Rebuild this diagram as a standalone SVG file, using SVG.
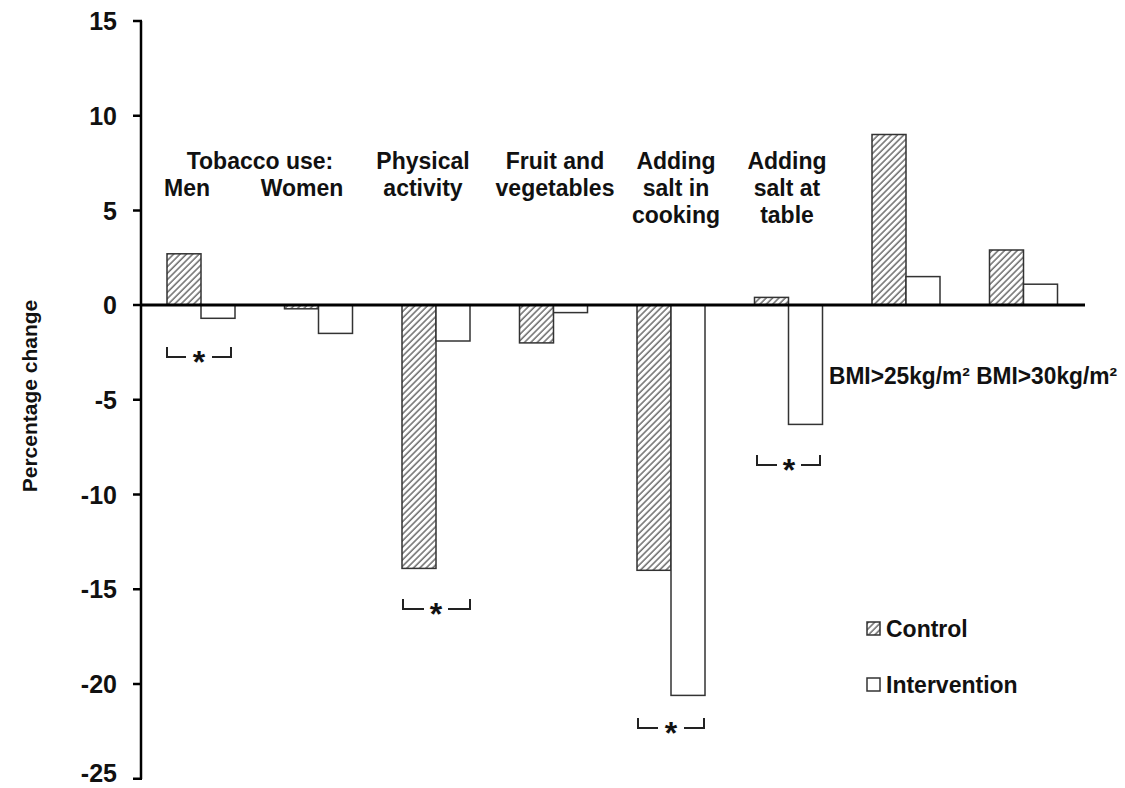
<svg xmlns="http://www.w3.org/2000/svg" width="1125" height="788" viewBox="0 0 1125 788">
<style>
text{font-family:"Liberation Sans",Arial,sans-serif;font-weight:bold;fill:#111;}
.lab{font-size:23px;}
.ylab{font-size:21px;}
.tick{font-size:25px;text-anchor:end;}
.c{fill:url(#hatch);stroke:#333;stroke-width:1.5;}
.i{fill:#fff;stroke:#333;stroke-width:1.5;}
.ax{stroke:#000;fill:none;}
.br{stroke:#222;stroke-width:2;fill:none;}
.star{font-size:32px;text-anchor:middle;}
</style>
<defs>
<pattern id="hatch" patternUnits="userSpaceOnUse" width="4.5" height="4.5" patternTransform="rotate(45)">
<rect width="4.5" height="4.5" fill="#fff"/>
<line x1="1" y1="0" x2="1" y2="4.5" stroke="#555" stroke-width="1.3"/>
</pattern>
</defs>
<rect width="1125" height="788" fill="#fff"/>

<g id="bars">
<g id="tobacco-men"><rect class="c" x="167" y="253.8" width="34" height="51.2"/><rect class="i" x="201" y="305" width="34" height="13.3"/></g>
<g id="tobacco-women"><rect class="c" x="284.5" y="305" width="34" height="3.8"/><rect class="i" x="318.5" y="305" width="34" height="28.4"/></g>
<g id="physical"><rect class="c" x="402" y="305" width="34" height="263.4"/><rect class="i" x="436" y="305" width="34" height="36"/></g>
<g id="fruit"><rect class="c" x="519.5" y="305" width="34" height="37.9"/><rect class="i" x="553.5" y="305" width="34" height="7.6"/></g>
<g id="salt-cooking"><rect class="c" x="637" y="305" width="34" height="265.3"/><rect class="i" x="671" y="305" width="34" height="390.4"/></g>
<g id="salt-table"><rect class="c" x="754.5" y="297.4" width="34" height="7.6"/><rect class="i" x="788.5" y="305" width="34" height="119.4"/></g>
<g id="bmi25"><rect class="c" x="872" y="134.5" width="34" height="170.5"/><rect class="i" x="906" y="276.6" width="34" height="28.4"/></g>
<g id="bmi30"><rect class="c" x="989.5" y="250" width="34" height="55"/><rect class="i" x="1023.5" y="284.2" width="34" height="20.8"/></g>
</g>

<g id="axes">
<line class="ax" x1="141" y1="21" x2="141" y2="779" stroke-width="2.5"/>
<line class="ax" x1="141" y1="305" x2="1085" y2="305" stroke-width="3"/>
<g stroke="#000" stroke-width="2.5">
<line x1="133" y1="21" x2="142" y2="21"/>
<line x1="133" y1="115.75" x2="142" y2="115.75"/>
<line x1="133" y1="210.5" x2="142" y2="210.5"/>
<line x1="133" y1="305" x2="142" y2="305"/>
<line x1="133" y1="399.75" x2="142" y2="399.75"/>
<line x1="133" y1="494.5" x2="142" y2="494.5"/>
<line x1="133" y1="589.25" x2="142" y2="589.25"/>
<line x1="133" y1="684" x2="142" y2="684"/>
<line x1="133" y1="778.75" x2="142" y2="778.75"/>
</g>
<text class="tick" x="117" y="30">15</text>
<text class="tick" x="117" y="125">10</text>
<text class="tick" x="117" y="219.5">5</text>
<text class="tick" x="117" y="314">0</text>
<text class="tick" x="117" y="409">-5</text>
<text class="tick" x="117" y="503.5">-10</text>
<text class="tick" x="117" y="598">-15</text>
<text class="tick" x="117" y="693">-20</text>
<text class="tick" x="117" y="782">-25</text>
<text class="ylab" transform="translate(37,396) rotate(-90)" text-anchor="middle">Percentage change</text>
</g>

<g id="labels">
<text class="lab" x="260" y="169" text-anchor="middle">Tobacco use:</text>
<text class="lab" x="187" y="196" text-anchor="middle">Men</text>
<text class="lab" x="302" y="196" text-anchor="middle">Women</text>
<text class="lab" x="423" y="169" text-anchor="middle">Physical</text>
<text class="lab" x="423" y="196" text-anchor="middle">activity</text>
<text class="lab" x="555" y="169" text-anchor="middle">Fruit and</text>
<text class="lab" x="555" y="196" text-anchor="middle">vegetables</text>
<text class="lab" x="676" y="169" text-anchor="middle">Adding</text>
<text class="lab" x="676" y="196" text-anchor="middle">salt in</text>
<text class="lab" x="676" y="223" text-anchor="middle">cooking</text>
<text class="lab" x="787" y="169" text-anchor="middle">Adding</text>
<text class="lab" x="787" y="196" text-anchor="middle">salt at</text>
<text class="lab" x="787" y="223" text-anchor="middle">table</text>
<text class="lab" x="829" y="384" textLength="288" lengthAdjust="spacingAndGlyphs">BMI&gt;25kg/m² BMI&gt;30kg/m²</text>
</g>

<g id="significance">
<path class="br" d="M167,347 V357 H186 M212,357 H231 V347"/>
<text class="star" x="199" y="373">*</text>
<path class="br" d="M403,599 V609 H424 M448,609 H470 V599"/>
<text class="star" x="436" y="625">*</text>
<path class="br" d="M638,718 V728 H658 M684,728 H704 V718"/>
<text class="star" x="671" y="744">*</text>
<path class="br" d="M757,455 V465 H777 M801,465 H820 V455"/>
<text class="star" x="789" y="481">*</text>
</g>

<g id="legend">
<rect class="c" x="867" y="622" width="13" height="13"/>
<text class="lab" x="886" y="637">Control</text>
<rect class="i" x="867" y="678" width="13" height="13"/>
<text class="lab" x="886" y="693">Intervention</text>
</g>
</svg>
